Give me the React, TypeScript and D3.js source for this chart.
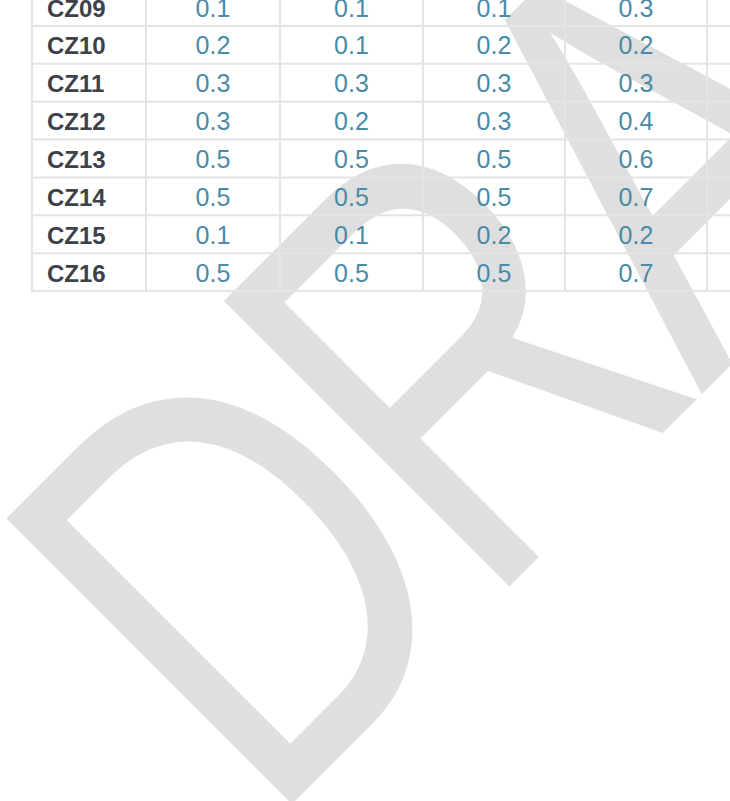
import React from "react";
import * as d3 from "d3";

const rowLabels = ["CZ09", "CZ10", "CZ11", "CZ12", "CZ13", "CZ14", "CZ15", "CZ16"];
const seriesA = [0.1, 0.2, 0.3, 0.3, 0.5, 0.5, 0.1, 0.5];
const seriesB = [0.1, 0.1, 0.3, 0.2, 0.5, 0.5, 0.1, 0.5];
const seriesC = [0.1, 0.2, 0.3, 0.3, 0.5, 0.5, 0.2, 0.5];
const seriesD = [0.3, 0.2, 0.3, 0.4, 0.6, 0.7, 0.2, 0.7];
const watermarkText = "DRAFT";

const W = 730;
const H = 801;
const colEdges = [32, 146, 280, 423, 565, 707, 849];
const tableTop = -11.86;
const tableBottom = 291;
const lineColor = "#e4e4e4";

export default function App() {
  const series = [seriesA, seriesB, seriesC, seriesD];
  const y = d3.scaleBand<string>().domain(rowLabels).range([tableTop, tableBottom]).padding(0);
  const fmt = d3.format(".1f");
  const rowLines = rowLabels.map((r) => (y(r) as number) + y.bandwidth());
  return (
    <svg
      width={W}
      height={H}
      style={{ position: "absolute", left: 0, top: 0, background: "#fff" }}
      fontFamily="'Liberation Sans', Arial, Helvetica, sans-serif"
    >
      <text
        transform="translate(266,830) rotate(-45) scale(0.76,1)"
        fontSize={587}
        letterSpacing={-19}
        fill="#dfdfdf"
        fontFamily="'Liberation Sans', Arial, sans-serif"
      >
        {watermarkText}
      </text>
      {rowLines.map((ly, i) => (
        <line key={"h" + i} x1={colEdges[0] - 1} x2={W} y1={ly} y2={ly} stroke={lineColor} strokeWidth={2} />
      ))}
      {colEdges.map((cx, i) => (
        <line key={"v" + i} x1={cx} x2={cx} y1={tableTop} y2={tableBottom + 1} stroke={lineColor} strokeWidth={2} />
      ))}
      {rowLabels.map((r, i) => {
        const top = y(r) as number;
        return (
          <g key={r}>
            <text x={47} y={top + 28.5} fontSize={24} fontWeight="bold" fill="#3d4149">
              {r}
            </text>
            {series.map((s, j) => (
              <text
                key={j}
                x={(colEdges[j + 1] + colEdges[j + 2]) / 2}
                y={top + 28.5}
                fontSize={25}
                textAnchor="middle"
                fill="#4a8ba7"
              >
                {fmt(s[i])}
              </text>
            ))}
          </g>
        );
      })}
    </svg>
  );
}
